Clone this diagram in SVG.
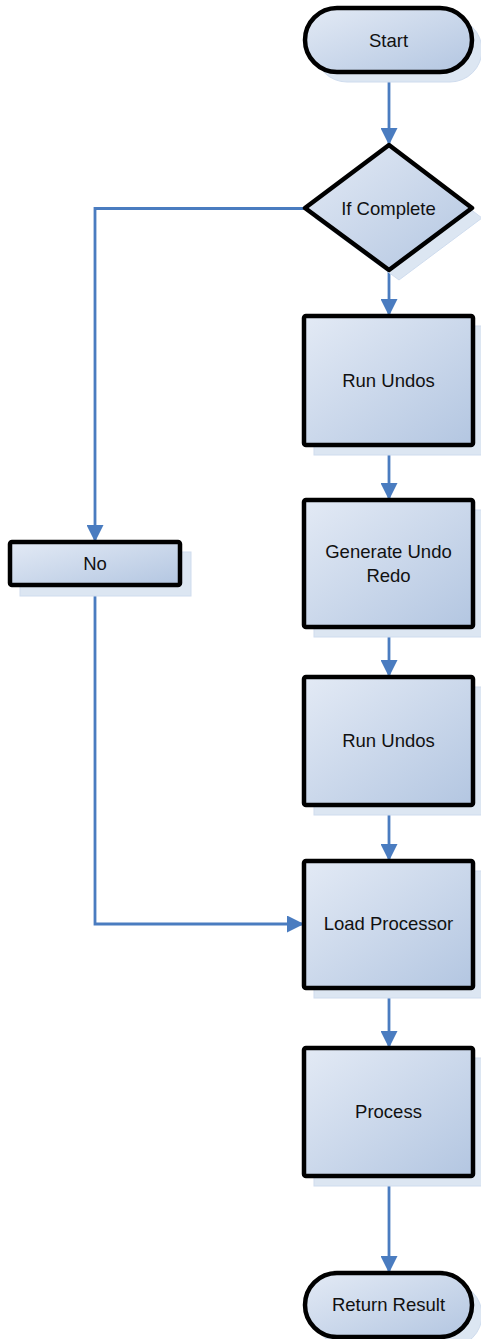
<svg xmlns="http://www.w3.org/2000/svg" width="481" height="1339" viewBox="0 0 481 1339">
<style>
.sh{fill:#dce6f2;stroke:#cfdcee;stroke-width:1}
.nd{fill:url(#g);stroke:#000;stroke-width:4.5;stroke-linejoin:round}
.t{font-family:"Liberation Sans",Arial,sans-serif;font-size:18.5px;fill:#111;text-anchor:middle}
.c{fill:none;stroke:#4a7cc0;stroke-width:2.8}
</style>
<defs>
<linearGradient id="g" x1="0" y1="0" x2="1" y2="1">
<stop offset="0" stop-color="#e3eaf5"/>
<stop offset="1" stop-color="#b3c6e1"/>
</linearGradient>
<marker id="a" markerWidth="17" markerHeight="17" viewBox="0 0 17 17" refX="17" refY="8.5" orient="auto" markerUnits="userSpaceOnUse">
<path d="M0,0 L17,8.5 L0,17 Z" fill="#4a7cc0"/>
</marker>
</defs>
<g id="connectors">
<line class="c" x1="389" y1="72" x2="389" y2="145" marker-end="url(#a)"/>
<line class="c" x1="389" y1="270" x2="389" y2="316" marker-end="url(#a)"/>
<line class="c" x1="389" y1="445" x2="389" y2="500" marker-end="url(#a)"/>
<line class="c" x1="389" y1="627" x2="389" y2="677" marker-end="url(#a)"/>
<line class="c" x1="389" y1="805" x2="389" y2="861" marker-end="url(#a)"/>
<line class="c" x1="389" y1="988" x2="389" y2="1048" marker-end="url(#a)"/>
<line class="c" x1="389" y1="1176" x2="389" y2="1273" marker-end="url(#a)"/>
<polyline class="c" points="305,208.5 95,208.5 95,542" marker-end="url(#a)"/>
<polyline class="c" points="95,585 95,924 304,924" marker-end="url(#a)"/>
</g>
<g id="start">
<rect class="sh" x="315" y="18" width="167" height="64" rx="32"/>
<rect class="nd" x="305" y="8" width="167" height="64" rx="32"/>
<text class="t" x="388.5" y="47">Start</text>
</g>
<g id="if-complete">
<polygon class="sh" points="399,155 482,218 399,280 315,218"/>
<polygon class="nd" points="389,145 472,208 389,270 305,208"/>
<text class="t" x="388.5" y="215">If Complete</text>
</g>
<g id="run-undos-1">
<rect class="sh" x="314" y="326" width="169" height="129"/>
<rect class="nd" x="304" y="316" width="169" height="129" rx="2"/>
<text class="t" x="388.5" y="387">Run Undos</text>
</g>
<g id="generate-undo-redo">
<rect class="sh" x="314" y="510" width="169" height="127"/>
<rect class="nd" x="304" y="500" width="169" height="127" rx="2"/>
<text class="t" x="388.5" y="558">Generate Undo</text>
<text class="t" x="388.5" y="582">Redo</text>
</g>
<g id="run-undos-2">
<rect class="sh" x="314" y="687" width="169" height="128"/>
<rect class="nd" x="304" y="677" width="169" height="128" rx="2"/>
<text class="t" x="388.5" y="747">Run Undos</text>
</g>
<g id="load-processor">
<rect class="sh" x="314" y="871" width="169" height="127"/>
<rect class="nd" x="304" y="861" width="169" height="127" rx="2"/>
<text class="t" x="388.5" y="930">Load Processor</text>
</g>
<g id="process">
<rect class="sh" x="314" y="1058" width="169" height="128"/>
<rect class="nd" x="304" y="1048" width="169" height="128" rx="2"/>
<text class="t" x="388.5" y="1118">Process</text>
</g>
<g id="return-result">
<rect class="sh" x="315" y="1283" width="167" height="64" rx="32"/>
<rect class="nd" x="305" y="1273" width="167" height="64" rx="32"/>
<text class="t" x="388.5" y="1311">Return Result</text>
</g>
<g id="no">
<rect class="sh" x="20" y="552" width="171" height="44"/>
<rect class="nd" x="10" y="542" width="170" height="43" rx="2"/>
<text class="t" x="95" y="570">No</text>
</g>
</svg>
